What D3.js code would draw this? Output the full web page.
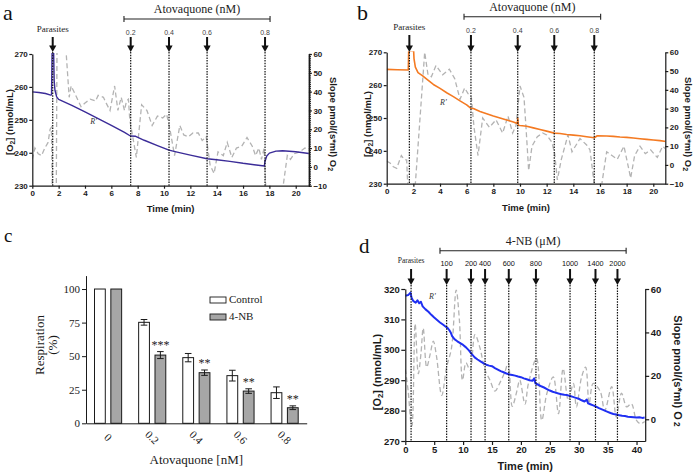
<!DOCTYPE html>
<html>
<head>
<meta charset="utf-8">
<script src="https://cdn.jsdelivr.net/npm/d3@7"></script>
<style>
  body { margin: 0; background: #fff; }
  svg { display: block; }
</style>
</head>
<body>
<div id="fig"></div>
<script>
const SANS = "'Liberation Sans', Arial, sans-serif";
const SERIF = "'Liberation Serif', 'Times New Roman', serif";

/* ---------- panel a : O2 trace, slope trace, additions ---------- */
const aO2 = [[0,258.5],[0.5,258.3],[1,258],[1.4,257.5],[1.46,257.6],[1.5,270.5],[1.62,270.5],[1.66,262],[1.72,259],[1.85,257],[2,256.2],[3,254.4],[4,252.4],[5,250.4],[6,248.3],[7,246.2],[7.45,245.1],[7.85,245],[8.5,243.8],[9.5,242.2],[10.38,240.8],[11,240.2],[12,239.3],[13.27,238.2],[14,237.9],[15,237.4],[16,236.8],[17,236.3],[17.62,236],[17.66,237.3],[17.8,239],[18,239.9],[18.5,240.5],[19,240.6],[20,240.3],[21,239.8]];
const aSlope = [[0,4],[0.2,10],[0.45,7],[0.7,6],[0.95,10],[1.2,13],[1.35,20],[1.45,21],[1.52,-15],[1.82,-15],[1.88,70],[2.48,70],[2.8,37],[2.95,43],[3.3,38],[3.7,32],[4.0,34],[4.4,36],[4.8,35],[5.0,38],[5.4,37],[5.6,34],[5.9,30],[6.25,43],[6.5,30],[6.75,37],[7.0,30],[7.15,35],[7.3,36],[7.4,25],[7.9,5],[8.3,33],[8.7,30],[9.1,22],[9.5,27],[9.9,26],[10.2,28],[10.45,20],[10.8,6],[11.2,22],[11.5,17],[11.85,16],[12.2,18],[12.6,18],[12.9,14],[13.2,16],[13.5,1],[13.8,-3.5],[14.1,8],[14.5,6],[14.8,13],[15.15,5],[15.5,10],[15.9,11],[16.3,15.6],[16.7,11],[16.95,6],[17.2,10],[17.4,4],[17.6,10],[17.75,-15],[18.95,-15],[19.36,6],[19.6,4],[19.9,7],[20.3,8],[20.7,10],[21,9]];
const aArrowTimes = [1.55, 7.47, 10.38, 13.27, 17.67];
const aArrowLabels = ["", "0.2", "0.4", "0.6", "0.8"];

/* ---------- panel b ---------- */
const bO2 = [[0,264.8],[0.8,264.7],[1.62,264.6],[1.65,270.5],[2.02,270.5],[2.05,268],[2.15,265.5],[2.35,263.8],[2.7,262.8],[3,261.8],[3.5,260.2],[4,259],[4.5,257.7],[5,256.5],[5.5,255.2],[6,254],[6.32,252.9],[6.5,252.9],[7,252],[7.5,251.3],[8,250.6],[8.5,250],[9,249.4],[9.5,248.8],[9.8,248.3],[9.83,250],[9.88,247.8],[10,247.7],[10.5,247.5],[11,247],[11.5,246.5],[12,246],[12.57,245.4],[13,245.3],[13.5,245],[14,244.8],[14.5,244.6],[15,244.3],[15.57,244],[15.8,244.6],[16.5,244.5],[17,244.4],[17.5,244.2],[18,244.1],[18.5,243.9],[19,243.7],[19.5,243.5],[20,243.3],[20.5,243.1],[21,242.8]];
const bSlope = [[0,2],[0.25,1],[0.5,-1],[0.75,-1.8],[1.1,5],[1.3,3],[1.5,2.6],[1.6,-15],[2.1,-15],[2.85,60],[3.1,48],[3.35,47],[3.7,53],[4.2,48],[4.7,51],[5.1,46],[5.5,35],[5.85,41],[6.1,38],[6.35,36],[6.55,20],[6.85,5],[7.2,25],[7.7,20],[8.2,24],[8.7,17],[9.1,26],[9.45,17],[9.7,21],[10.0,42],[10.3,36],[10.45,20],[10.65,-3],[10.9,10],[11.3,15],[11.7,17],[12.0,16],[12.4,12],[12.6,6],[12.8,-8],[13.1,3],[13.6,16],[13.9,7],[14.5,14],[15.0,10.6],[15.25,8],[15.6,-12],[16.1,-12],[16.5,7],[16.9,5],[17.3,3],[17.8,10],[18.3,-7],[18.6,5],[19.0,10],[19.4,6],[19.8,8],[20.3,4],[20.7,10],[21,8]];
const bArrowTimes = [1.7, 6.32, 9.83, 12.57, 15.57];
const bArrowLabels = ["", "0.2", "0.4", "0.6", "0.8"];

/* ---------- panel c : bars ---------- */
const cCats = ["0", "0.2", "0.4", "0.6", "0.8"];
const cControl = [100, 75.2, 48.9, 35.5, 22.8];
const cControlErr = [0, 2.1, 3.1, 4, 4.3];
const cNB = [100, 50.8, 37.7, 24, 11.6];
const cNBErr = [0, 2.6, 2, 1.7, 1.4];
const cStars = ["", "***", "**", "**", "**"];
const cSeries = ["Control", "4-NB"];

/* ---------- panel d ---------- */
const dO2 = [[0,317.8],[0.5,318],[0.9,318.8],[1.1,317],[1.4,316],[1.8,315.5],[2.1,316.3],[2.4,315.3],[2.7,315.8],[3,314.3],[3.5,313.3],[4,312.5],[4.5,311.5],[5,310.6],[5.5,309.8],[6,309],[6.5,308.3],[7,307.6],[7.3,307.2],[7.6,306.5],[7.9,305.5],[8.1,304.5],[8.5,303.5],[9,302.8],[9.5,302.2],[10,301.6],[10.5,300.8],[11,299.8],[11.5,298.6],[12,297.5],[12.5,296.8],[13,296.2],[13.5,295.6],[14,295.1],[14.5,294.8],[15,294.6],[15.5,294],[16,293.5],[16.5,293],[17,292.6],[17.5,292.2],[18,291.9],[18.5,291.7],[19,291.5],[19.5,291.2],[20,291],[20.5,290.6],[21,290.3],[21.5,290],[22,289.8],[22.3,290.6],[22.5,289],[23,288.5],[23.5,288],[24,287.6],[24.5,287.1],[25,286.6],[25.5,286.2],[26,285.9],[26.5,285.6],[27,285.4],[27.5,285.2],[28,285.1],[28.5,284.8],[29,284.5],[29.5,284.2],[30,283.9],[30.5,283.4],[31,283],[31.4,283.6],[31.6,282.4],[32,282.1],[32.5,281.7],[33,281.3],[33.5,280.8],[34,280.4],[34.5,280],[35,279.6],[35.5,279.2],[36,278.9],[36.5,278.7],[37,278.5],[37.5,278.3],[38,278.2],[38.5,278],[39,277.9],[39.5,277.8],[40,277.7],[40.5,277.8],[41,277.6],[41.4,277.7]];
const dSlope = [[0,23],[0.5,13],[1.0,-2],[1.15,-3],[1.7,44],[2.25,21],[2.7,30],[3.1,42],[3.7,24],[4.3,30],[4.85,36],[5.4,29],[6.3,11],[7.15,24],[8.0,33],[8.8,59.5],[9.35,46],[9.9,18],[10.5,26],[11.2,22.6],[12.05,39],[12.9,33],[13.8,22.6],[14.65,18],[15.5,13],[16.4,17],[17.25,22],[17.8,26],[18.5,6],[19.3,13],[19.8,18],[20.7,7],[21.3,16.5],[22.7,28],[23.6,-0.5],[24.5,12],[25.6,19.5],[26.5,2.6],[27.3,23.4],[28.2,8.8],[29.07,16.5],[29.6,5.7],[30.5,19.5],[31.2,24],[31.8,7.2],[32.5,16.5],[33.7,13],[34.5,4],[35.7,15],[36.5,1],[37.4,12],[38.3,5.7],[39.1,7.2],[40.0,-0.5],[40.7,-2],[41.4,-1]];
const dArrowTimes = [1.0, 7.15, 11.37, 13.8, 17.9, 22.6, 28.5, 32.9, 36.7];
const dArrowLabels = ["", "100", "200", "400", "600", "800", "1000", "1400", "2000"];

const svg = d3.select("#fig").append("svg").attr("width", 696).attr("height", 473);

const styleAxis = (sel, size, family, weight) => {
  sel.selectAll("text")
    .attr("font-family", family)
    .attr("font-weight", weight)
    .attr("font-size", size)
    .attr("fill", "#1a1a1a");
  sel.selectAll("line, path").attr("stroke", "#1a1a1a").attr("stroke-width", 1.2);
};

/* oxygraph-style panel: O2 on left axis, slope (dashed gray) on right axis */
const tracePanel = (p) => {
  const x = d3.scaleLinear(p.xDomain, [p.x0, p.x1]);
  const yL = d3.scaleLinear(p.leftDomain, [p.y1, p.y0]);
  const yR = d3.scaleLinear(p.rightDomain, [p.y1, p.y0]);
  const g = svg.append("g");

  const clipId = "clip-" + p.id;
  g.append("clipPath").attr("id", clipId).append("rect")
    .attr("x", p.x0).attr("y", p.y0 - 1)
    .attr("width", p.x1 - p.x0).attr("height", p.y1 - p.y0 + 1);

  // slope trace
  g.append("path").datum(p.slope)
    .attr("clip-path", `url(#${clipId})`)
    .attr("fill", "none")
    .attr("stroke", "#b3b3b3")
    .attr("stroke-width", 1.3)
    .attr("stroke-dasharray", "5,3")
    .attr("d", d3.line().curve(p.slopeCurve).x((d) => x(d[0])).y((d) => yR(d[1])));

  // O2 trace
  g.append("path").datum(p.o2)
    .attr("clip-path", `url(#${clipId})`)
    .attr("fill", "none")
    .attr("stroke", p.color)
    .attr("stroke-width", p.o2Width)
    .attr("stroke-linejoin", "round")
    .attr("d", d3.line().x((d) => x(d[0])).y((d) => yL(d[1])));

  // dotted markers + arrows
  p.arrows.forEach((t, i) => {
    const ax = x(t);
    g.append("line")
      .attr("x1", ax).attr("x2", ax).attr("y1", p.arrowTip).attr("y2", p.y1)
      .attr("stroke", "#111").attr("stroke-width", 1.2).attr("stroke-dasharray", "1.5,1.2");
    g.append("line")
      .attr("x1", ax).attr("x2", ax).attr("y1", p.arrowTop).attr("y2", p.arrowTip - 5)
      .attr("stroke", "#111").attr("stroke-width", 2);
    g.append("path")
      .attr("d", `M${ax - 3.6},${p.arrowTip - 6.5}L${ax + 3.6},${p.arrowTip - 6.5}L${ax},${p.arrowTip}Z`)
      .attr("fill", "#111");
    if (p.arrowLabels[i]) {
      g.append("text")
        .attr("x", ax).attr("y", p.labelY)
        .attr("text-anchor", "middle")
        .attr("font-family", SANS)
        .attr("font-size", p.labelSize)
        .attr("fill", p.labelColor)
        .text(p.arrowLabels[i]);
    }
  });

  // "Parasites" label over first arrow
  g.append("text")
    .attr("x", x(p.arrows[0])).attr("y", p.parasitesY)
    .attr("text-anchor", "middle")
    .attr("font-family", SERIF)
    .attr("font-size", p.parasitesSize)
    .attr("fill", "#222")
    .text("Parasites");

  // bracket with title
  const b = p.bracket;
  g.append("line").attr("x1", x(b.from)).attr("x2", x(b.to)).attr("y1", b.y).attr("y2", b.y)
    .attr("stroke", "#222").attr("stroke-width", 1.1);
  [b.from, b.to].forEach((t) => {
    g.append("line").attr("x1", x(t)).attr("x2", x(t)).attr("y1", b.y - 3).attr("y2", b.y + 3)
      .attr("stroke", "#222").attr("stroke-width", 1.1);
  });
  g.append("text")
    .attr("x", (x(b.from) + x(b.to)) / 2).attr("y", b.y - 6)
    .attr("text-anchor", "middle")
    .attr("font-family", SERIF)
    .attr("font-size", 12)
    .attr("fill", "#222")
    .text(b.title);

  // R' marker
  g.append("text")
    .attr("x", x(p.rLabel[0])).attr("y", yL(p.rLabel[1]))
    .attr("font-family", SERIF).attr("font-style", "italic")
    .attr("font-size", 8).attr("fill", "#333")
    .text("R'");

  // axes
  const xAx = g.append("g")
    .attr("transform", `translate(0,${p.y1})`)
    .call(d3.axisBottom(x).tickValues(p.xTicks).tickSize(p.tickLen).tickSizeOuter(0).tickPadding(p.xPad).tickFormat(d3.format("d")));
  styleAxis(xAx, p.tickFont, SANS, "bold");

  const lAx = g.append("g")
    .attr("transform", `translate(${p.x0},0)`)
    .call(d3.axisLeft(yL).tickValues(p.leftTicks).tickSize(p.tickLen).tickSizeOuter(0).tickPadding(1.5));
  styleAxis(lAx, p.tickFont, SANS, "bold");

  if (p.minorRight) {
    const mAx = g.append("g")
      .attr("transform", `translate(${p.x1},0)`)
      .call(d3.axisRight(yR).tickValues(d3.range(p.rightDomain[0], p.rightDomain[1] + 1, 1)).tickSize(2).tickSizeOuter(0).tickFormat(""));
    styleAxis(mAx, p.tickFont, SANS, "bold");
  }
  const rAx = g.append("g")
    .attr("transform", `translate(${p.x1},0)`)
    .call(d3.axisRight(yR).tickValues(p.rightTicks).tickSize(p.tickLen).tickSizeOuter(0).tickPadding(1.5));
  styleAxis(rAx, p.tickFont, SANS, "bold");

  // axis titles
  g.append("text")
    .attr("x", (p.x0 + p.x1) / 2).attr("y", p.timeY)
    .attr("text-anchor", "middle")
    .attr("font-family", SANS).attr("font-weight", "bold")
    .attr("font-size", p.titleFont).attr("fill", "#1a1a1a")
    .text("Time (min)");

  const lt = g.append("text")
    .attr("transform", `translate(${p.leftTitle[0]},${p.leftTitle[1]}) rotate(-90)`)
    .attr("text-anchor", "middle")
    .attr("font-family", SANS).attr("font-weight", "bold")
    .attr("font-size", p.titleFont).attr("fill", "#1a1a1a");
  lt.append("tspan").text("[O");
  lt.append("tspan").attr("dy", 2).attr("font-size", p.titleFont * 0.7).text("2");
  lt.append("tspan").attr("dy", -2).text("] (nmol/mL)");

  const rt = g.append("text")
    .attr("transform", `translate(${p.rightTitle[0]},${p.rightTitle[1]}) rotate(90)`)
    .attr("text-anchor", "middle")
    .attr("font-family", SANS).attr("font-weight", "bold")
    .attr("font-size", p.titleFont).attr("fill", "#1a1a1a");
  rt.append("tspan").text("Slope pmol/(s*ml) O");
  rt.append("tspan").attr("dy", p.subShift).attr("font-size", p.titleFont * 0.75).text(p.subShift ? "2" : " 2");

  // panel letter
  svg.append("text")
    .attr("x", p.letter[0]).attr("y", p.letter[1])
    .attr("font-family", SERIF).attr("font-size", p.letter[2])
    .attr("fill", "#111")
    .text(p.id);
};

tracePanel({
  id: "a", o2: aO2, slope: aSlope, color: "#3b2c98", o2Width: 1.4, slopeCurve: d3.curveLinear,
  xDomain: [0, 21], x0: 32.3, x1: 308.9, y0: 54, y1: 185.7,
  leftDomain: [230, 270], rightDomain: [-10, 60],
  xTicks: d3.range(0, 21, 2), leftTicks: [230, 240, 250, 260, 270], rightTicks: d3.range(-10, 61, 10),
  minorRight: true, tickLen: 3, xPad: 2, tickFont: 8, titleFont: 9.5,
  arrows: aArrowTimes, arrowLabels: aArrowLabels, arrowTop: 37, arrowTip: 52,
  labelY: 35, labelSize: 7, labelColor: "#444", parasitesY: 32, parasitesSize: 9,
  bracket: { from: 6.96, to: 18.05, y: 19, title: "Atovaquone (nM)" },
  rLabel: [4.4, 248.8], timeY: 212, leftTitle: [13, 122], rightTitle: [329.5, 124], subShift: 2,
  letter: [3, 20, 22],
});

tracePanel({
  id: "b", o2: bO2, slope: bSlope, color: "#f47a22", o2Width: 1.6, slopeCurve: d3.curveLinear,
  xDomain: [0, 20.9], x0: 386.7, x1: 665.3, y0: 52.3, y1: 183.7,
  leftDomain: [230, 270], rightDomain: [-10, 60],
  xTicks: d3.range(0, 21, 2), leftTicks: [230, 240, 250, 260, 270], rightTicks: d3.range(-10, 61, 10),
  minorRight: false, tickLen: 3, xPad: 2, tickFont: 8, titleFont: 9.5,
  arrows: bArrowTimes, arrowLabels: bArrowLabels, arrowTop: 35, arrowTip: 52,
  labelY: 33, labelSize: 7, labelColor: "#444", parasitesY: 30, parasitesSize: 9,
  bracket: { from: 5.8, to: 16.05, y: 16.7, title: "Atovaquone (nM)" },
  rLabel: [4.0, 254], timeY: 211, leftTitle: [371, 124], rightTitle: [685, 124], subShift: 2,
  letter: [357, 20, 22],
});

tracePanel({
  id: "d", o2: dO2, slope: dSlope, color: "#1f2ff2", o2Width: 2, slopeCurve: d3.curveCatmullRom,
  xDomain: [0, 41.5], x0: 405.3, x1: 645.2, y0: 289, y1: 441,
  leftDomain: [270, 320], rightDomain: [-10, 60],
  xTicks: d3.range(0, 41, 5), leftTicks: [270, 280, 290, 300, 310, 320], rightTicks: [0, 20, 40, 60],
  minorRight: false, tickLen: 4, xPad: 1.5, tickFont: 9.5, titleFont: 11,
  arrows: dArrowTimes, arrowLabels: dArrowLabels, arrowTop: 269, arrowTip: 285,
  labelY: 266, labelSize: 7.3, labelColor: "#111", parasitesY: 263, parasitesSize: 7.5,
  bracket: { from: 6.0, to: 38.2, y: 250.7, title: "4-NB (\u03bcM)" },
  rLabel: [4.1, 316.8], timeY: 470, leftTitle: [381, 372], rightTitle: [673.5, 371], subShift: 0,
  letter: [359, 253, 21],
});

/* ---------- panel c : grouped bar chart ---------- */
const createBarPanel = () => {
  const left = 86, right = 306.7, top = 275.6, bottom = 423.3;
  const g = svg.append("g");

  const x = d3.scaleBand(cCats, [left, right]).paddingInner(0).paddingOuter(0);
  const xSub = d3.scaleBand(cSeries, [0, x.bandwidth()]).paddingInner(0.34).paddingOuter(0.52);
  const y = d3.scaleLinear([0, 110], [bottom, top]);
  const fill = { "Control": "#ffffff", "4-NB": "#a6a6a6" };

  const rows = cCats.map((c, i) => [
    { cat: c, key: "Control", value: cControl[i], err: cControlErr[i], star: "" },
    { cat: c, key: "4-NB", value: cNB[i], err: cNBErr[i], star: cStars[i] },
  ]).flat();

  g.selectAll("rect.bar")
    .data(rows)
    .join("rect")
    .attr("class", "bar")
    .attr("x", (d) => x(d.cat) + xSub(d.key))
    .attr("y", (d) => y(d.value))
    .attr("width", xSub.bandwidth())
    .attr("height", (d) => y(0) - y(d.value))
    .attr("fill", (d) => fill[d.key])
    .attr("stroke", "#1a1a1a")
    .attr("stroke-width", 1);

  // error bars
  const withErr = rows.filter((d) => d.err > 0);
  const cx = (d) => x(d.cat) + xSub(d.key) + xSub.bandwidth() / 2;
  g.selectAll("line.err")
    .data(withErr)
    .join("line")
    .attr("class", "err")
    .attr("x1", cx).attr("x2", cx)
    .attr("y1", (d) => y(d.value - d.err)).attr("y2", (d) => y(d.value + d.err))
    .attr("stroke", "#1a1a1a").attr("stroke-width", 1);
  ["lo", "hi"].forEach((end) => {
    g.selectAll("line.cap-" + end)
      .data(withErr)
      .join("line")
      .attr("class", "cap-" + end)
      .attr("x1", (d) => cx(d) - 3.3).attr("x2", (d) => cx(d) + 3.3)
      .attr("y1", (d) => y(end === "lo" ? d.value - d.err : d.value + d.err))
      .attr("y2", (d) => y(end === "lo" ? d.value - d.err : d.value + d.err))
      .attr("stroke", "#1a1a1a").attr("stroke-width", 1);
  });

  // significance stars
  g.selectAll("text.star")
    .data(rows.filter((d) => d.star))
    .join("text")
    .attr("class", "star")
    .attr("x", cx)
    .attr("y", (d) => y(d.value + d.err) - 3)
    .attr("text-anchor", "middle")
    .attr("font-family", SERIF).attr("font-size", 12).attr("fill", "#1a1a1a")
    .text((d) => d.star);

  // axes
  const yAx = g.append("g")
    .attr("transform", `translate(${left},0)`)
    .call(d3.axisLeft(y).tickValues([0, 25, 50, 75, 100]).tickSize(4).tickSizeOuter(0).tickPadding(2));
  styleAxis(yAx, 11, SERIF, "normal");
  yAx.selectAll("line, path").attr("stroke-width", 1);

  const xAx = g.append("g")
    .attr("transform", `translate(0,${bottom})`)
    .call(d3.axisBottom(x).tickSize(0).tickSizeOuter(0));
  styleAxis(xAx, 11, SERIF, "normal");
  xAx.selectAll("path").attr("stroke-width", 1);
  xAx.selectAll("text")
    .attr("text-anchor", "middle")
    .attr("dy", "0.35em")
    .attr("y", null)
    .attr("transform", "translate(0,14) rotate(45)");

  // titles
  g.append("text")
    .attr("x", (left + right) / 2).attr("y", 464)
    .attr("text-anchor", "middle")
    .attr("font-family", SERIF).attr("font-size", 13).attr("fill", "#1a1a1a")
    .text("Atovaquone [nM]");
  g.append("text")
    .attr("transform", "translate(44,345) rotate(-90)")
    .attr("text-anchor", "middle")
    .attr("font-family", SERIF).attr("font-size", 13).attr("fill", "#1a1a1a")
    .text("Respiration");
  g.append("text")
    .attr("transform", "translate(57,345) rotate(-90)")
    .attr("text-anchor", "middle")
    .attr("font-family", SERIF).attr("font-size", 13).attr("fill", "#1a1a1a")
    .text("(%)");

  // legend
  const legend = g.append("g").attr("transform", "translate(210,297)");
  cSeries.forEach((k, i) => {
    legend.append("rect")
      .attr("x", 0).attr("y", i * 17)
      .attr("width", 16).attr("height", 6)
      .attr("fill", fill[k]).attr("stroke", "#1a1a1a").attr("stroke-width", 0.9);
    legend.append("text")
      .attr("x", 19).attr("y", i * 17 + 6)
      .attr("font-family", SERIF).attr("font-size", 11).attr("fill", "#1a1a1a")
      .text(k);
  });

  svg.append("text")
    .attr("x", 4).attr("y", 242)
    .attr("font-family", SERIF).attr("font-size", 19)
    .attr("fill", "#111")
    .text("c");
};

createBarPanel();
</script>
</body>
</html>
